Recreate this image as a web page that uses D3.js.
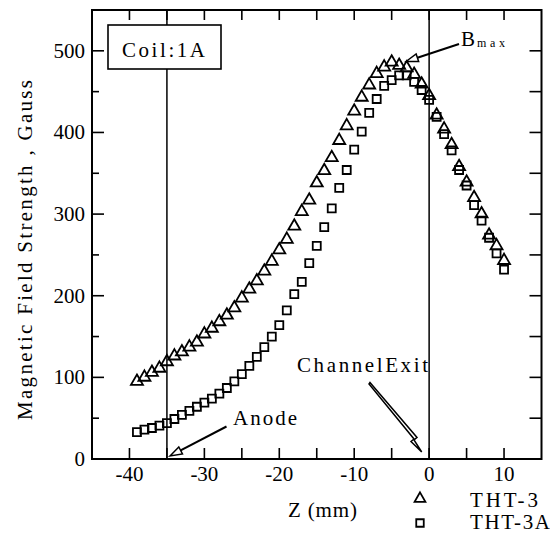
<!DOCTYPE html>
<html>
<head>
<meta charset="utf-8">
<script src="https://cdn.jsdelivr.net/npm/d3@7"></script>
<style>
html,body{margin:0;padding:0;background:#fff;}
svg{display:block;}
text{font-family:"Liberation Serif","DejaVu Serif",serif;fill:#000;}
</style>
</head>
<body>
<svg id="chart" width="550" height="533"></svg>
<script>
// ---- data ----
const zValues = [-39,-38,-37,-36,-35,-34,-33,-32,-31,-30,-29,-28,-27,-26,-25,-24,-23,-22,-21,-20,
  -19,-18,-17,-16,-15,-14,-13,-12,-11,-10,-9,-8,-7,-6,-5,-4,-3,-2,-1,0,1,2,3,4,5,6,7,8,9,10];
const tht3 = [96,101,107,112,120,127,132,138,144,154,161,169,177,186,198,209,219,231,243,257,
  270,286,304,318,339,354,370,391,409,427,444,459,473,481,487,483,480,472,460,446,422,405,386,359,340,321,301,275,262,244];
const tht3A = [33,36,38,41,44,49,54,59,64,69,74,80,87,95,104,114,125,137,150,164,
  182,202,217,240,261,284,307,332,354,379,401,424,441,457,464,470,470,462,452,440,419,398,378,354,335,311,292,271,252,232];
const seriesNames = ["THT-3","THT-3A"];
const xTickLabels = [-40,-30,-20,-10,0,10];
const yTickLabels = [0,100,200,300,400,500];
const markerLines = [-35, 0];

// ---- layout ----
const svg = d3.select("#chart");
const x = d3.scaleLinear().domain([-45,15]).range([92,541.5]);
const y = d3.scaleLinear().domain([0,550]).range([459,10]);

// vertical reference lines
svg.selectAll("line.ref").data(markerLines).enter().append("line")
  .attr("x1",d=>x(d)).attr("x2",d=>x(d)).attr("y1",y(0)).attr("y2",y(550))
  .attr("stroke","#000").attr("stroke-width",1.5);

// frame
svg.append("rect").attr("x",x(-45)).attr("y",y(550))
  .attr("width",x(15)-x(-45)).attr("height",y(0)-y(550))
  .attr("fill","none").attr("stroke","#000").attr("stroke-width",2);

// ticks (inward)
const g = svg.append("g").attr("stroke","#000").attr("stroke-width",1.6);
const xt = d3.range(-45,15.01,5).filter(v=>v>-45 && v<15);
xt.forEach(v=>{
  g.append("line").attr("x1",x(v)).attr("x2",x(v)).attr("y1",y(0)).attr("y2",y(0)-11);
  g.append("line").attr("x1",x(v)).attr("x2",x(v)).attr("y1",y(550)).attr("y2",y(550)+10);
});
const yt = d3.range(50,550,50);
yt.forEach(v=>{
  const major = v%100===0;
  g.append("line").attr("x1",x(-45)).attr("x2",x(-45)+(major?12:7)).attr("y1",y(v)).attr("y2",y(v));
  g.append("line").attr("x1",x(15)).attr("x2",x(15)-12).attr("y1",y(v)).attr("y2",y(v));
});

// tick labels
svg.selectAll("text.xl").data(xTickLabels).enter().append("text")
  .attr("x",d=>x(d)).attr("y",481).attr("text-anchor","middle")
  .attr("font-size",21).text(d=>d);
svg.selectAll("text.yl").data(yTickLabels).enter().append("text")
  .attr("x",85).attr("y",d=>y(d)+7).attr("text-anchor","end")
  .attr("font-size",21).text(d=>d);

// axis titles
svg.append("text").attr("transform","translate(32,250) rotate(-90)")
  .attr("text-anchor","middle").attr("font-size",21)
  .attr("textLength",340).attr("lengthAdjust","spacing")
  .text("Magnetic Field Strength , Gauss");
svg.append("text").attr("x",288).attr("y",517).attr("font-size",21)
  .attr("textLength",69).attr("lengthAdjust","spacing").text("Z (mm)");

// markers
const triPath = s => `M0,${-s*0.62}L${s*0.6},${s*0.42}L${-s*0.6},${s*0.42}Z`;
const sqPath = s => `M${-s/2},${-s/2}h${s}v${s}h${-s}Z`;

svg.append("g").selectAll("path").data(zValues.map((z,i)=>[z,tht3[i]])).enter().append("path")
  .attr("transform",d=>`translate(${x(d[0])},${y(d[1])})`)
  .attr("d",triPath(10)).attr("fill","none").attr("stroke","#000").attr("stroke-width",1.8);
svg.append("g").selectAll("path").data(zValues.map((z,i)=>[z,tht3A[i]])).enter().append("path")
  .attr("transform",d=>`translate(${x(d[0])},${y(d[1])})`)
  .attr("d",sqPath(8)).attr("fill","none").attr("stroke","#000").attr("stroke-width",1.8);

// Coil box
svg.append("rect").attr("x",108).attr("y",25).attr("width",113).attr("height",44)
  .attr("fill","#fff").attr("stroke","#000").attr("stroke-width",1.6);
svg.append("text").attr("x",122).attr("y",57).attr("font-size",21)
  .attr("textLength",83).attr("lengthAdjust","spacing").text("Coil:1A");

// arrow helper (open head)
function arrow(x1,y1,x2,y2,len,w){
  const a = Math.atan2(y2-y1,x2-x1);
  const bx = x2-len*Math.cos(a), by = y2-len*Math.sin(a);
  const px = -Math.sin(a)*w, py = Math.cos(a)*w;
  svg.append("line").attr("x1",x1).attr("y1",y1).attr("x2",bx).attr("y2",by)
    .attr("stroke","#000").attr("stroke-width",2);
  svg.append("path").attr("d",`M${x2},${y2}L${bx+px},${by+py}L${bx-px},${by-py}Z`)
    .attr("fill","#fff").attr("stroke","#000").attr("stroke-width",1.5);
}

// Bmax
svg.append("text").attr("x",461).attr("y",46).attr("font-size",21).text("B");
svg.append("text").attr("x",477).attr("y",47).attr("font-size",12)
  .attr("textLength",28).attr("lengthAdjust","spacing").text("max");
arrow(459,44,406,61.5,12,4);

// Anode
svg.append("text").attr("x",233).attr("y",425).attr("font-size",21)
  .attr("textLength",64).attr("lengthAdjust","spacing").text("Anode");
arrow(226.5,426.5,170,456,12,4);

// Channel exit
svg.append("text").attr("x",297).attr("y",372).attr("font-size",21)
  .attr("textLength",131).attr("lengthAdjust","spacing").text("ChannelExit");
svg.append("path")
  .attr("d","M370,382.5L417,437.5L414,440L421.7,452L411,441.5L414,439L369,384Z")
  .attr("fill","#fff").attr("stroke","#000").attr("stroke-width",1.5).attr("stroke-linejoin","miter");

// legend
svg.append("path").attr("transform","translate(420,498)").attr("d",triPath(9))
  .attr("fill","none").attr("stroke","#000").attr("stroke-width",1.8);
svg.append("path").attr("transform","translate(420,523)").attr("d",sqPath(7.5))
  .attr("fill","none").attr("stroke","#000").attr("stroke-width",1.8);
svg.append("text").attr("x",470).attr("y",507).attr("font-size",21)
  .attr("textLength",68).attr("lengthAdjust","spacing").text(seriesNames[0]);
svg.append("text").attr("x",470).attr("y",529).attr("font-size",21)
  .attr("textLength",80).attr("lengthAdjust","spacing").text(seriesNames[1]);
</script>
</body>
</html>
